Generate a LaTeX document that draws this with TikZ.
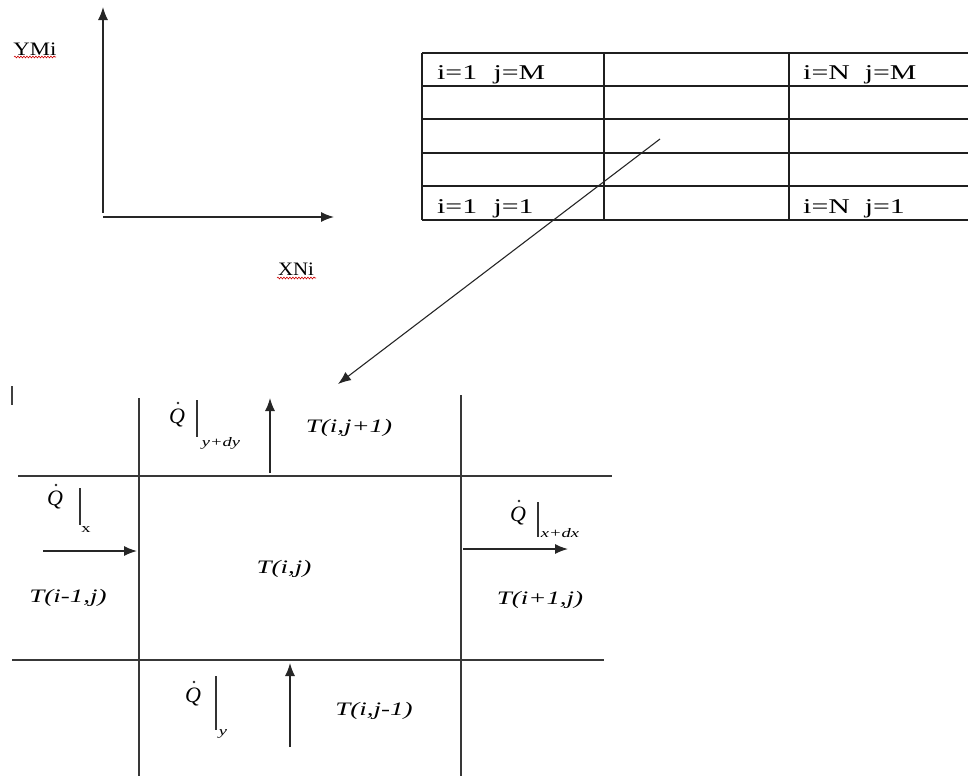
\documentclass[tikz,border=0pt]{standalone}
\usepackage{fontspec}
\setmainfont{Liberation Serif}
\usetikzlibrary{arrows.meta,decorations.pathmorphing}
\newcommand{\hs}[1]{\scalebox{1.42}[1]{#1}}
\begin{document}
\begin{tikzpicture}[x=1pt,y=-1pt,
  ln/.style={line width=1.4pt, draw=black!78},
  tabln/.style={line width=1.5pt, draw=black!88},
  arr/.style={line width=1.4pt, draw=black!85, -{Latex[length=13pt,width=10pt]}},
  thinarr/.style={line width=1.1pt, draw=black!85, -{Latex[length=13pt,width=10pt]}},
  tab/.style={anchor=base west, inner sep=0, font=\fontsize{21}{21}\selectfont},
  lbl/.style={inner sep=0, font=\fontsize{19}{19}\selectfont\itshape},
  qd/.style={inner sep=0, font=\fontsize{22}{22}\selectfont\itshape},
  qdot/.style={fill=black!85},
  qbar/.style={line width=1.2pt, draw=black!80},
  sub/.style={inner sep=0, font=\fontsize{13}{13}\selectfont},
  axl/.style={inner sep=0, font=\fontsize{19}{19}\selectfont},
  wavy/.style={draw=red!80!black, line width=0.6pt, decorate, decoration={snake, amplitude=0.9pt, segment length=3pt}}]
\useasboundingbox (0,0) rectangle (968,780);

% ---- axes ----
\coordinate (Yo) at (103,213);
\coordinate (Ytip) at (103,7);
\coordinate (Xo) at (103,217);
\coordinate (Xtip) at (334,217);
\draw[arr] (Yo) -- (Ytip);
\draw[arr] (Xo) -- (Xtip);
\node[axl] (ymi) at (35,49) {\scalebox{1.2}[1]{YMi}};
\draw[wavy] (14,57) -- (56,57);
\node[axl] (xni) at (296,269) {\scalebox{1.1}[1]{XNi}};
\draw[wavy] (277,278) -- (316,278);

% ---- table ----
\foreach \yy in {53,86,119,153,186,220} \draw[tabln] (422,\yy) -- (968,\yy);
\foreach \xx in {422,604,789} \draw[tabln] (\xx,53) -- (\xx,220);
\node[tab] (c11) at (437,79) {\hs{i=1\hspace{0.55em}j=M}};
\node[tab] (cN1) at (803,79) {\hs{i=N\hspace{0.5em}j=M}};
\node[tab] (c1M) at (437,213) {\hs{i=1\hspace{0.55em}j=1}};
\node[tab] (cNM) at (803,213) {\hs{i=N\hspace{0.5em}j=1}};

% ---- link arrow ----
\coordinate (cellpt) at (660,139);
\coordinate (gridpt) at (338,384);
\draw[thinarr] (cellpt) -- (gridpt);

% ---- small mark ----
\coordinate (m1) at (12,386);
\coordinate (m2) at (12,405);
\draw[line width=2pt, draw=black!75] (m1) -- (m2);

% ---- grid ----
\draw[ln] (139,398) -- (139,776);
\draw[ln] (461,395) -- (461,776);
\draw[ln] (18,476) -- (612,476);
\draw[ln] (12,660) -- (604,660);

% ---- flux arrows ----
\coordinate (a1s) at (270,473); \coordinate (a1e) at (270,398);
\coordinate (a2s) at (290,747); \coordinate (a2e) at (290,663);
\coordinate (a3s) at (43,551);  \coordinate (a3e) at (137,551);
\coordinate (a4s) at (463,549); \coordinate (a4e) at (568,549);
\draw[arr] (a1s) -- (a1e);
\draw[arr] (a2s) -- (a2e);
\draw[arr] (a3s) -- (a3e);
\draw[arr] (a4s) -- (a4e);

% ---- temperatures ----
\node[lbl] (Tup) at (349,428) {\hs{T(i,j+1)}};
\node[lbl] (Tc)  at (284,569) {\hs{T(i,j)}};
\node[lbl] (Tl)  at (68,598)  {\hs{T(i-1,j)}};
\node[lbl] (Tr)  at (540,600) {\hs{T(i+1,j)}};
\node[lbl] (Tdn) at (374,711) {\hs{T(i,j-1)}};

% ---- Q dot labels ----
\node[qd] (Qyd) at (177,418) {Q};
\fill[qdot] (178,403) circle (1.4);
\draw[qbar] (197,400) -- (197,437);
\node[sub] (Qydsub) at (221,443) {\hs{\itshape y+dy}};

\node[qd] (Qx) at (55,500) {Q};
\fill[qdot] (56,485) circle (1.4);
\draw[qbar] (80,488) -- (80,525);
\node[sub] (Qxsub) at (86,530) {\hs{x}};

\node[qd] (Qxd) at (518,516) {Q};
\fill[qdot] (519,501) circle (1.4);
\draw[qbar] (538,502) -- (538,537);
\node[sub] (Qxdsub) at (560,533) {\hs{\itshape x+dx}};

\node[qd] (Qy) at (193,697) {Q};
\fill[qdot] (194,682) circle (1.4);
\draw[qbar] (216,676) -- (216,730);
\node[sub] (Qysub) at (223,734) {\hs{\itshape y}};
\end{tikzpicture}
\end{document}
